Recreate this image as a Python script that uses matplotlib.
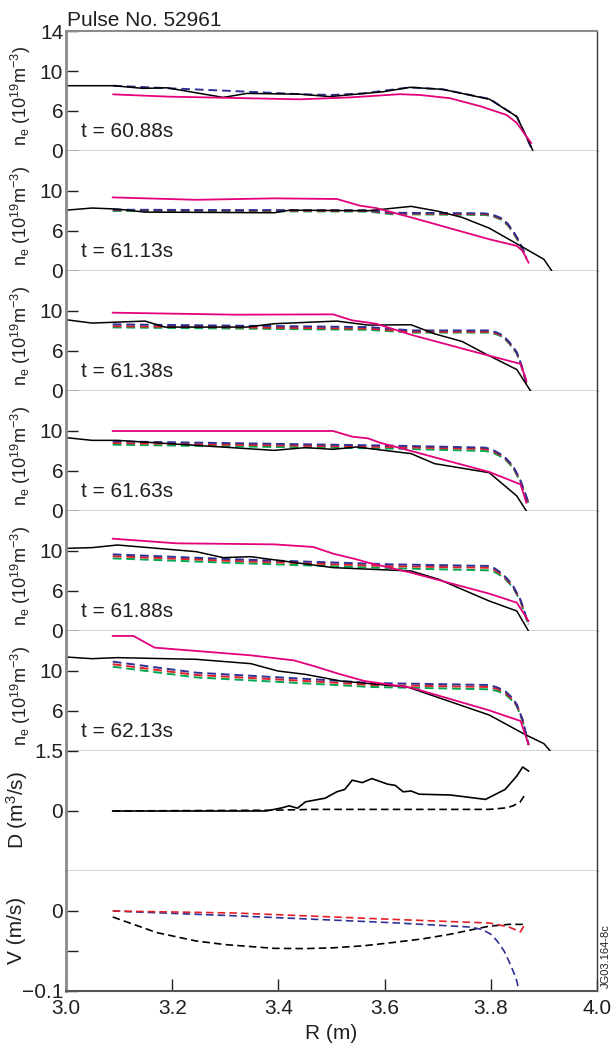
import matplotlib
matplotlib.use("Agg")
import matplotlib.pyplot as plt

plt.rcParams["font.family"] = ["Liberation Sans", "DejaVu Sans"]
plt.rcParams["mathtext.fontset"] = "custom"
plt.rcParams["mathtext.rm"] = "Liberation Sans"
plt.rcParams["mathtext.it"] = "Liberation Sans:italic"
plt.rcParams["mathtext.default"] = "rm"

# --- density profiles, one block per time slice -----------------------------
times = ["t = 60.88s", "t = 61.13s", "t = 61.38s", "t = 61.63s", "t = 61.88s", "t = 62.13s"]

# t = 60.88 s
meas_r_1 = [3.0, 3.089, 3.145, 3.19, 3.296, 3.341, 3.441, 3.497, 3.597, 3.648, 3.71, 3.798, 3.849, 3.879]
meas_1 = [8.16, 8.16, 7.83, 7.9, 6.7, 7.2, 7.1, 6.8, 7.4, 7.96, 7.7, 6.46, 4.3, 0.1]
fit_r_1 = [3.089, 3.19, 3.441, 3.535, 3.629, 3.667, 3.723, 3.78, 3.83, 3.849, 3.876]
fit_1 = [7.08, 6.8, 6.46, 6.7, 7.1, 7.0, 6.6, 5.6, 4.5, 3.5, 1.0]
sim_r_1 = [3.089, 3.19, 3.3, 3.441, 3.5, 3.56, 3.648, 3.71, 3.798, 3.849, 3.877]
sim_b_1 = [8.16, 7.85, 7.54, 7.1, 7.0, 7.2, 7.96, 7.7, 6.5, 4.3, 0.3]
sim_rd_1 = None
sim_g_1 = None

# t = 61.13 s
meas_r_2 = [3.0, 3.049, 3.097, 3.149, 3.392, 3.421, 3.569, 3.65, 3.702, 3.746, 3.797, 3.856, 3.9, 3.915]
meas_2 = [7.6, 7.87, 7.74, 7.36, 7.28, 7.6, 7.53, 8.08, 7.45, 6.7, 5.36, 3.14, 1.46, 0.0]
fit_r_2 = [3.088, 3.245, 3.392, 3.51, 3.554, 3.584, 3.65, 3.797, 3.849, 3.86, 3.871]
fit_2 = [9.2, 8.9, 9.08, 9.0, 8.16, 7.87, 6.7, 3.97, 3.14, 2.5, 1.05]
sim_r_2 = [3.088, 3.3, 3.569, 3.613, 3.70, 3.79, 3.805, 3.82, 3.832, 3.842, 3.852, 3.86, 3.867]
sim_b_2 = [7.66, 7.62, 7.6, 7.28, 7.25, 7.2, 7.0, 6.6, 5.9, 5.0, 3.9, 2.8, 1.67]
sim_rd_2 = [7.6, 7.56, 7.53, 7.2, 7.15, 7.1, 6.9, 6.5, 5.8, 4.9, 3.8, 2.7, 1.6]
sim_g_2 = [7.5, 7.46, 7.43, 7.1, 7.05, 7.0, 6.8, 6.4, 5.7, 4.8, 3.7, 2.6, 1.5]

# t = 61.38 s
meas_r_3 = [3.0, 3.049, 3.149, 3.186, 3.34, 3.392, 3.51, 3.569, 3.65, 3.694, 3.746, 3.79, 3.849, 3.875]
meas_3 = [8.91, 8.49, 8.74, 7.99, 7.99, 8.41, 8.74, 8.24, 8.28, 7.15, 6.19, 4.64, 2.68, 0.0]
fit_r_3 = [3.088, 3.318, 3.503, 3.539, 3.584, 3.65, 3.76, 3.856, 3.867]
fit_3 = [9.79, 9.54, 9.58, 8.83, 8.41, 7.03, 5.06, 3.39, 1.3]
sim_r_3 = [3.088, 3.569, 3.65, 3.797, 3.81, 3.823, 3.835, 3.849, 3.858, 3.867]
sim_b_3 = [8.33, 7.99, 7.57, 7.57, 7.35, 6.95, 6.1, 4.85, 3.2, 1.09]
sim_rd_3 = [8.1, 7.8, 7.4, 7.4, 7.2, 6.85, 6.0, 4.75, 3.1, 1.0]
sim_g_3 = [7.95, 7.65, 7.3, 7.3, 7.1, 6.75, 5.9, 4.65, 3.0, 0.95]

# t = 61.63 s
meas_r_4 = [3.0, 3.049, 3.097, 3.392, 3.451, 3.503, 3.547, 3.65, 3.694, 3.797, 3.849, 3.867]
meas_4 = [9.17, 8.83, 8.83, 7.58, 7.92, 7.71, 8.0, 7.17, 5.92, 4.79, 1.88, 0.0]
fit_r_4 = [3.088, 3.503, 3.539, 3.569, 3.591, 3.65, 3.797, 3.856, 3.867]
fit_4 = [10.0, 10.0, 9.29, 9.08, 8.54, 7.5, 4.88, 3.33, 1.04]
sim_r_4 = [3.088, 3.613, 3.79, 3.805, 3.819, 3.83, 3.842, 3.856, 3.871]
sim_b_4 = [8.71, 8.17, 7.92, 7.6, 7.08, 6.5, 5.62, 3.8, 1.04]
sim_rd_4 = [8.5, 8.0, 7.75, 7.45, 6.95, 6.4, 5.5, 3.7, 1.0]
sim_g_4 = [8.29, 7.8, 7.5, 7.25, 6.8, 6.25, 5.4, 3.6, 0.95]

# t = 61.88 s
meas_r_5 = [3.0, 3.049, 3.097, 3.245, 3.296, 3.348, 3.503, 3.65, 3.702, 3.797, 3.849, 3.871]
meas_5 = [10.33, 10.42, 10.75, 9.92, 9.17, 9.29, 7.92, 7.5, 6.46, 3.75, 2.5, 0.0]
fit_r_5 = [3.088, 3.208, 3.392, 3.466, 3.503, 3.547, 3.569, 3.65, 3.797, 3.849, 3.871]
fit_5 = [11.54, 10.96, 10.83, 10.5, 9.67, 8.96, 8.54, 7.29, 4.67, 3.54, 1.25]
sim_r_5 = [3.088, 3.318, 3.613, 3.797, 3.808, 3.819, 3.83, 3.842, 3.856, 3.871]
sim_b_5 = [9.58, 8.96, 8.33, 8.13, 7.8, 7.29, 6.6, 5.63, 3.9, 0.83]
sim_rd_5 = [9.35, 8.75, 8.1, 7.9, 7.6, 7.1, 6.45, 5.5, 3.8, 0.8]
sim_g_5 = [9.08, 8.5, 7.85, 7.58, 7.35, 6.9, 6.3, 5.4, 3.7, 0.75]

# t = 62.13 s
meas_r_6 = [3.0, 3.049, 3.097, 3.245, 3.348, 3.399, 3.451, 3.517, 3.643, 3.797, 3.864, 3.9, 3.912]
meas_6 = [11.75, 11.54, 11.67, 11.46, 10.92, 10.0, 9.58, 8.75, 8.0, 4.5, 2.08, 0.92, 0.0]
fit_r_6 = [3.088, 3.127, 3.167, 3.348, 3.429, 3.466, 3.517, 3.562, 3.65, 3.797, 3.856, 3.871]
fit_6 = [14.38, 14.38, 12.92, 11.96, 11.33, 10.63, 9.58, 8.75, 7.92, 5.08, 3.75, 0.83]
sim_r_6 = [3.088, 3.245, 3.466, 3.576, 3.797, 3.812, 3.827, 3.838, 3.849, 3.86, 3.871]
sim_b_6 = [11.17, 9.79, 8.96, 8.5, 8.25, 7.95, 7.5, 6.8, 5.83, 3.9, 0.83]
sim_rd_6 = [10.85, 9.5, 8.7, 8.25, 8.0, 7.75, 7.3, 6.6, 5.7, 3.8, 0.8]
sim_g_6 = [10.54, 9.2, 8.4, 8.0, 7.71, 7.5, 7.1, 6.45, 5.6, 3.7, 0.75]

# --- transport coefficients ---------------------------------------------------
d_r = [3.088, 3.377, 3.407, 3.42, 3.436, 3.451, 3.488, 3.51, 3.525, 3.539, 3.558, 3.576,
       3.606, 3.62, 3.635, 3.65, 3.665, 3.724, 3.79, 3.827, 3.849, 3.86, 3.871]
d_val = [0, 0, 0.08, 0.13, 0.07, 0.23, 0.32, 0.48, 0.54, 0.77, 0.71, 0.81,
         0.67, 0.64, 0.48, 0.5, 0.42, 0.4, 0.29, 0.54, 0.875, 1.1, 1.0]
d0_r = [3.088, 3.39, 3.464, 3.797, 3.83, 3.842, 3.855, 3.864]
d0_val = [0, 0.02, 0.04, 0.04, 0.08, 0.13, 0.22, 0.4]

v_red_r = [3.088, 3.318, 3.613, 3.797, 3.834, 3.856, 3.864]
v_red = [0, -0.0025, -0.0104, -0.015, -0.02, -0.026, -0.0167]
v_blue_r = [3.088, 3.318, 3.613, 3.76, 3.783, 3.80, 3.812, 3.825, 3.834, 3.842, 3.849, 3.853]
v_blue = [0, -0.006, -0.0146, -0.02, -0.023, -0.029, -0.0375, -0.05, -0.0625, -0.075, -0.0875, -0.1]
v_blk_r = [3.088, 3.12, 3.171, 3.245, 3.3, 3.392, 3.45, 3.503, 3.56, 3.613, 3.67, 3.724, 3.76, 3.797, 3.834, 3.864]
v_blk = [-0.0075, -0.015, -0.027, -0.0375, -0.042, -0.0467, -0.047, -0.046, -0.0435, -0.0396, -0.035,
         -0.029, -0.024, -0.019, -0.0167, -0.0167]

ne_ticks = [0, 5, 10, 15]
ne_ticklabels = ["0", "6", "10", "14"]
r_ticks = [3.0, 3.2, 3.4, 3.6, 3.8, 4.0]
r_ticklabels = ["3.0", "3.2", "3.4", "3.6", "3..8", "4.0"]

MAGENTA = "#e5007d"
BLUE = "#2e3192"
RED = "#e41e26"
GREEN = "#00a651"
INK = "#231f20"
DASH = (0, (4.5, 2.5))

W, H = 614, 1046
fig = plt.figure(figsize=(W / 100, H / 100), dpi=100)

left, right = 66, 597
top, ph = 31, 120
axes = []
for i in range(8):
    y0 = top + ph * (i + 1)
    ax = fig.add_axes([left / W, 1 - y0 / H, (right - left) / W, ph / H])
    ax.set_xlim(3.0, 4.0)
    ax.spines["left"].set_color("#8a8a8a")
    ax.spines["left"].set_linewidth(2)
    ax.spines["right"].set_color("#3a3a3a")
    ax.spines["right"].set_linewidth(1)
    ax.spines["bottom"].set_color(INK)
    ax.spines["bottom"].set_linewidth(1)
    if i == 0:
        ax.spines["top"].set_color("#8a8a8a")
        ax.spines["top"].set_linewidth(1.5)
    else:
        ax.spines["top"].set_visible(False)
    ax.tick_params(direction="in", length=8.5, width=1, color=INK, labelsize=15,
                   labelcolor=INK, pad=2)
    if i < 7:
        ax.tick_params(axis="x", bottom=False, labelbottom=False)
    axes.append(ax)

profiles = [
    (meas_r_1, meas_1, fit_r_1, fit_1, sim_r_1, sim_b_1, sim_rd_1, sim_g_1),
    (meas_r_2, meas_2, fit_r_2, fit_2, sim_r_2, sim_b_2, sim_rd_2, sim_g_2),
    (meas_r_3, meas_3, fit_r_3, fit_3, sim_r_3, sim_b_3, sim_rd_3, sim_g_3),
    (meas_r_4, meas_4, fit_r_4, fit_4, sim_r_4, sim_b_4, sim_rd_4, sim_g_4),
    (meas_r_5, meas_5, fit_r_5, fit_5, sim_r_5, sim_b_5, sim_rd_5, sim_g_5),
    (meas_r_6, meas_6, fit_r_6, fit_6, sim_r_6, sim_b_6, sim_rd_6, sim_g_6),
]

for i, (mr, m, fr, f, sr, sb, srd, sg) in enumerate(profiles):
    ax = axes[i]
    if sg is not None:
        ax.plot(sr, sg, color=GREEN, lw=1.4, ls=DASH)
    if srd is not None:
        ax.plot(sr, srd, color=RED, lw=1.4, ls=DASH)
    ax.plot(sr, sb, color=BLUE, lw=1.4, ls=DASH)
    ax.plot(mr, m, color="black", lw=1.1)
    ax.plot(fr, f, color=MAGENTA, lw=1.3)
    ax.set_ylim(0, 15)
    if i == 0:
        ax.set_yticks(ne_ticks, ne_ticklabels)
    elif i < 5:
        ax.set_yticks(ne_ticks[:3], ne_ticklabels[:3])
    else:
        ax.set_yticks(ne_ticks[1:3], ne_ticklabels[1:3])
    ax.text(0.028, 0.117, times[i], transform=ax.transAxes, fontsize=15,
            color=INK, va="baseline")
    yc = top + ph * i + ph / 2 + 5
    fig.text(21 / W, 1 - yc / H, r"n$_{e}$ (10$^{19}$m$^{-3}$)", rotation=90,
             ha="center", va="center", fontsize=13, color=INK)

# diffusion coefficient
ax = axes[6]
ax.plot(d0_r, d0_val, color="black", lw=1.2, ls=DASH)
ax.plot(d_r, d_val, color="black", lw=1.2)
ax.set_ylim(-1.5, 1.5)
ax.set_yticks([0, 1.5], ["0", "1.5"])
fig.text(17 / W, 1 - 810 / H, r"D (m$^{3}$/s)", rotation=90, ha="center",
         va="center", fontsize=15, color=INK)

# convective velocity
ax = axes[7]
ax.plot(v_blk_r, v_blk, color="black", lw=1.2, ls=DASH)
ax.plot(v_blue_r, v_blue, color=BLUE, lw=1.2, ls=DASH)
ax.plot(v_red_r, v_red, color=RED, lw=1.2, ls=DASH)
ax.set_ylim(-0.1, 0.05)
ax.set_yticks([-0.1, -0.05, 0], ["\u22120.1", "", "0"])
ax.set_xticks(r_ticks, r_ticklabels)
ax.tick_params(axis="x", pad=6)
ax.spines["bottom"].set_color("#555555")
ax.spines["bottom"].set_linewidth(1.5)
ax.set_xlabel("R (m)", fontsize=15, color=INK, labelpad=4)
fig.text(17 / W, 1 - 930 / H, "V (m/s)", rotation=90, ha="center",
         va="center", fontsize=15, color=INK)

fig.text(67 / W, 1 - 26 / H, "Pulse No. 52961", fontsize=15, color=INK,
         va="baseline")
fig.text(606 / W, 1 - 956 / H, "JG03.164-8c", rotation=90, fontsize=8,
         ha="center", va="center", color=INK)

fig.savefig("out.png", dpi=100)
